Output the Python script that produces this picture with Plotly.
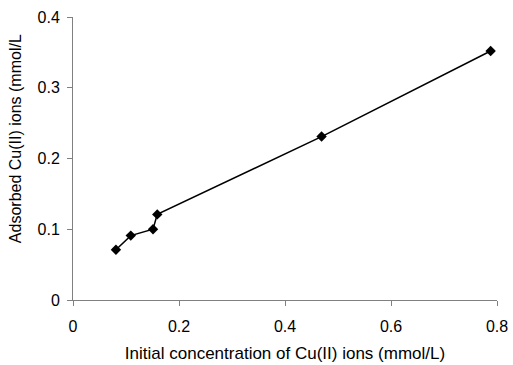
import plotly.graph_objects as go

conc_initial = [0.081, 0.109, 0.151, 0.159, 0.469, 0.788]
adsorbed = [0.071, 0.091, 0.100, 0.121, 0.231, 0.352]
x_ticks = [0, 0.2, 0.4, 0.6, 0.8]
x_tick_labels = ["0", "0.2", "0.4", "0.6", "0.8"]
y_ticks = [0, 0.1, 0.2, 0.3, 0.4]
y_tick_labels = ["0", "0.1", "0.2", "0.3", "0.4"]
x_title = "Initial concentration of Cu(II) ions (mmol/L)"
y_title = "Adsorbed Cu(II) ions (mmol/L"

fig = go.Figure()
fig.add_trace(go.Scatter(
    x=conc_initial, y=adsorbed, mode="lines+markers",
    line=dict(color="black", width=1.5),
    marker=dict(symbol="diamond", size=8, color="black"),
    showlegend=False,
))

fam = "Liberation Sans, Arial, sans-serif"
fig.update_layout(
    width=513, height=365,
    margin=dict(l=73, r=16, t=17, b=65),
    paper_bgcolor="white", plot_bgcolor="white",
    font=dict(family=fam, size=16, color="black"),
    xaxis=dict(
        range=[0, 0.8], tickvals=x_ticks, ticktext=x_tick_labels,
        showgrid=False, zeroline=False, showline=True, linecolor="#808080", linewidth=1,
        ticks="outside", ticklen=5, tickcolor="#808080", ticklabelstandoff=7,
        title=dict(text=x_title, standoff=12, font=dict(family=fam, size=17, color="black")),
        automargin=False,
    ),
    yaxis=dict(
        range=[0, 0.4], tickvals=y_ticks, ticktext=y_tick_labels,
        showgrid=False, zeroline=False, showline=True, linecolor="#808080", linewidth=1,
        ticks="outside", ticklen=5, tickcolor="#808080", ticklabelstandoff=4,
        automargin=False,
    ),
    annotations=[
        dict(text=y_title, xref="paper", yref="paper", x=-0.134, y=0.569,
             xanchor="center", yanchor="middle", textangle=-90, showarrow=False,
             font=dict(family=fam, size=16, color="black")),
    ],
)
fig.write_html("out.html")
